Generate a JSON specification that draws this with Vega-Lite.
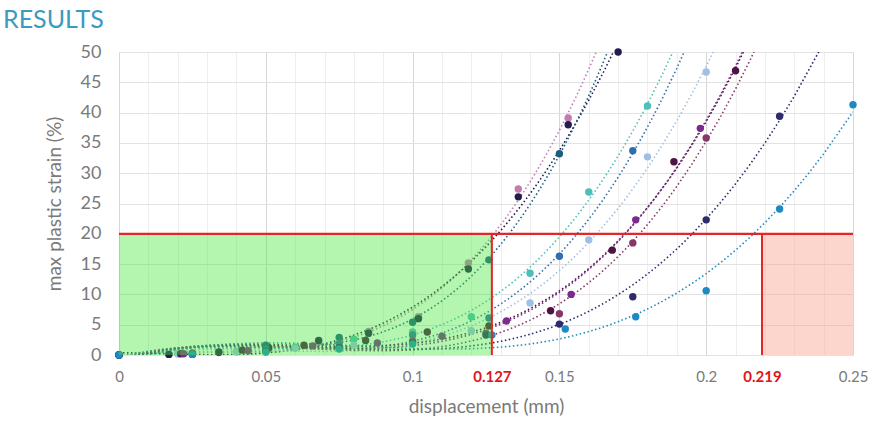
{
  "$schema": "https://vega.github.io/schema/vega-lite/v6.json",
  "width": 734,
  "height": 303,
  "autosize": {"type": "none"},
  "padding": {"left": 119, "top": 52, "right": 29, "bottom": 70},
  "background": "white",
  "title": {"text": "RESULTS", "anchor": "start", "frame": "group", "dx": -116, "offset": 10, "fontSize": 25, "font": "Lato", "fontWeight": "normal", "color": "#3b9ac0"},
  "config": {"view": {"stroke": null}, "font": "Lato"},
  "datasets": {
    "pts": [
      {"s": "A", "x": 0, "y": 0}, {"s": "A", "x": 0.017, "y": 0.1}, {"s": "A", "x": 0.034, "y": 0.4}, {"s": "A", "x": 0.051, "y": 1.0}, {"s": "A", "x": 0.068, "y": 2.2}, {"s": "A", "x": 0.085, "y": 3.9}, {"s": "A", "x": 0.102, "y": 6.3}, {"s": "A", "x": 0.119, "y": 15.2}, {"s": "A", "x": 0.136, "y": 27.4}, {"s": "A", "x": 0.153, "y": 39.1},
      {"s": "B", "x": 0, "y": 0}, {"s": "B", "x": 0.017, "y": 0.1}, {"s": "B", "x": 0.034, "y": 0.5}, {"s": "B", "x": 0.051, "y": 1.2}, {"s": "B", "x": 0.068, "y": 2.4}, {"s": "B", "x": 0.085, "y": 3.6}, {"s": "B", "x": 0.102, "y": 6.0}, {"s": "B", "x": 0.119, "y": 14.2}, {"s": "B", "x": 0.136, "y": 26.1}, {"s": "B", "x": 0.153, "y": 38.0}, {"s": "B", "x": 0.170, "y": 50.0},
      {"s": "C", "x": 0, "y": 0}, {"s": "C", "x": 0.025, "y": 0.3}, {"s": "C", "x": 0.05, "y": 1.6}, {"s": "C", "x": 0.075, "y": 2.9}, {"s": "C", "x": 0.1, "y": 5.4}, {"s": "C", "x": 0.126, "y": 15.7}, {"s": "C", "x": 0.150, "y": 33.2},
      {"s": "D", "x": 0, "y": 0}, {"s": "D", "x": 0.02, "y": 0.2}, {"s": "D", "x": 0.04, "y": 0.6}, {"s": "D", "x": 0.06, "y": 1.3}, {"s": "D", "x": 0.08, "y": 2.6}, {"s": "D", "x": 0.1, "y": 3.8}, {"s": "D", "x": 0.12, "y": 6.3}, {"s": "D", "x": 0.14, "y": 13.5}, {"s": "D", "x": 0.16, "y": 26.9}, {"s": "D", "x": 0.18, "y": 41.1},
      {"s": "E", "x": 0, "y": 0}, {"s": "E", "x": 0.02, "y": 0.2}, {"s": "E", "x": 0.04, "y": 0.5}, {"s": "E", "x": 0.06, "y": 1.1}, {"s": "E", "x": 0.08, "y": 1.6}, {"s": "E", "x": 0.1, "y": 2.3}, {"s": "E", "x": 0.12, "y": 4.0}, {"s": "E", "x": 0.14, "y": 8.6}, {"s": "E", "x": 0.16, "y": 19.0}, {"s": "E", "x": 0.18, "y": 32.7}, {"s": "E", "x": 0.2, "y": 46.7},
      {"s": "F", "x": 0, "y": 0}, {"s": "F", "x": 0.025, "y": 0.2}, {"s": "F", "x": 0.05, "y": 0.9}, {"s": "F", "x": 0.075, "y": 1.9}, {"s": "F", "x": 0.1, "y": 3.3}, {"s": "F", "x": 0.126, "y": 6.1}, {"s": "F", "x": 0.150, "y": 16.3}, {"s": "F", "x": 0.175, "y": 33.7},
      {"s": "G", "x": 0, "y": 0}, {"s": "G", "x": 0.021, "y": 0.2}, {"s": "G", "x": 0.042, "y": 0.8}, {"s": "G", "x": 0.063, "y": 1.6}, {"s": "G", "x": 0.084, "y": 2.4}, {"s": "G", "x": 0.105, "y": 3.8}, {"s": "G", "x": 0.126, "y": 4.8}, {"s": "G", "x": 0.147, "y": 7.3}, {"s": "G", "x": 0.168, "y": 17.3}, {"s": "G", "x": 0.189, "y": 31.9}, {"s": "G", "x": 0.210, "y": 46.9},
      {"s": "H", "x": 0, "y": 0}, {"s": "H", "x": 0.022, "y": 0.2}, {"s": "H", "x": 0.044, "y": 0.7}, {"s": "H", "x": 0.066, "y": 1.5}, {"s": "H", "x": 0.088, "y": 2.0}, {"s": "H", "x": 0.110, "y": 3.1}, {"s": "H", "x": 0.132, "y": 5.6}, {"s": "H", "x": 0.154, "y": 10.0}, {"s": "H", "x": 0.176, "y": 22.3}, {"s": "H", "x": 0.198, "y": 37.4},
      {"s": "I", "x": 0, "y": 0}, {"s": "I", "x": 0.025, "y": 0.3}, {"s": "I", "x": 0.05, "y": 0.7}, {"s": "I", "x": 0.075, "y": 1.3}, {"s": "I", "x": 0.1, "y": 2.3}, {"s": "I", "x": 0.125, "y": 3.6}, {"s": "I", "x": 0.150, "y": 6.8}, {"s": "I", "x": 0.175, "y": 18.5}, {"s": "I", "x": 0.200, "y": 35.8},
      {"s": "J", "x": 0, "y": 0}, {"s": "J", "x": 0.025, "y": 0.1}, {"s": "J", "x": 0.05, "y": 0.6}, {"s": "J", "x": 0.075, "y": 1.2}, {"s": "J", "x": 0.1, "y": 2.0}, {"s": "J", "x": 0.125, "y": 3.3}, {"s": "J", "x": 0.150, "y": 5.1}, {"s": "J", "x": 0.175, "y": 9.6}, {"s": "J", "x": 0.200, "y": 22.3}, {"s": "J", "x": 0.225, "y": 39.4},
      {"s": "K", "x": 0, "y": 0}, {"s": "K", "x": 0.025, "y": 0.1}, {"s": "K", "x": 0.05, "y": 0.5}, {"s": "K", "x": 0.075, "y": 1.0}, {"s": "K", "x": 0.1, "y": 1.8}, {"s": "K", "x": 0.127, "y": 3.3}, {"s": "K", "x": 0.152, "y": 4.3}, {"s": "K", "x": 0.176, "y": 6.3}, {"s": "K", "x": 0.200, "y": 10.6}, {"s": "K", "x": 0.225, "y": 24.1}, {"s": "K", "x": 0.250, "y": 41.3}
    ]
  },
  "layer": [
    {
      "data": {"values": [{"x1": 0.219, "x2": 0.25, "y1": 0, "y2": 20}]},
      "mark": {"type": "rect", "fill": "#f9a58f", "opacity": 0.45},
      "encoding": {
        "x": {"field": "x1", "type": "quantitative"},
        "x2": {"field": "x2"},
        "y": {"field": "y1", "type": "quantitative"},
        "y2": {"field": "y2"}
      }
    },
    {
      "data": {"name": "pts"},
      "transform": [{"regression": "y", "on": "x", "groupby": ["s"], "method": "poly", "order": 3, "extent": [0, 0.25]}],
      "mark": {"type": "line", "strokeDash": [1.5, 2.5], "strokeWidth": 1.6, "clip": true},
      "encoding": {
        "x": {"field": "x", "type": "quantitative"},
        "y": {"field": "y", "type": "quantitative"},
        "color": {"field": "s", "type": "nominal", "legend": null, "scale": {"domain": ["A", "B", "C", "D", "E", "F", "G", "H", "I", "J", "K"], "range": ["#c47bb0", "#221d4d", "#1d5e80", "#4dbfb6", "#9fbfe4", "#2f6fae", "#4b1442", "#7b2a8e", "#86386b", "#2d2a70", "#1f8ac2"]}}
      }
    },
    {
      "data": {"name": "pts"},
      "mark": {"type": "circle", "size": 55, "opacity": 1},
      "encoding": {
        "x": {"field": "x", "type": "quantitative"},
        "y": {"field": "y", "type": "quantitative"},
        "color": {"field": "s", "type": "nominal", "legend": null}
      }
    },
    {
      "data": {"values": [{"x1": 0, "x2": 0.127, "y1": 0, "y2": 20}]},
      "mark": {"type": "rect", "fill": "#43e637", "opacity": 0.4},
      "encoding": {
        "x": {"field": "x1", "type": "quantitative"},
        "x2": {"field": "x2"},
        "y": {"field": "y1", "type": "quantitative"},
        "y2": {"field": "y2"}
      }
    },
    {
      "data": {"values": [{"x": 0.127, "y": 0, "y2": 20}, {"x": 0.219, "y": 0, "y2": 20}]},
      "mark": {"type": "rule", "color": "#e3262a", "strokeWidth": 2},
      "encoding": {
        "x": {"field": "x", "type": "quantitative"},
        "y": {"field": "y", "type": "quantitative"},
        "y2": {"field": "y2"}
      }
    },
    {
      "data": {"values": [{"x": 0, "x2": 0.25, "y": 20}]},
      "mark": {"type": "rule", "color": "#e3262a", "strokeWidth": 2.2},
      "encoding": {
        "x": {"field": "x", "type": "quantitative"},
        "x2": {"field": "x2"},
        "y": {"field": "y", "type": "quantitative"}
      }
    }
  ],
  "encoding": {
    "x": {
      "type": "quantitative",
      "scale": {"domain": [0, 0.25], "nice": false, "zero": false},
      "axis": {
        "title": "displacement (mm)",
        "titleFontSize": 19, "titleColor": "#7a7a7a", "titleFontWeight": "normal", "titlePadding": 13,
        "values": [0, 0.01, 0.02, 0.03, 0.04, 0.05, 0.06, 0.07, 0.08, 0.09, 0.1, 0.11, 0.12, 0.13, 0.14, 0.15, 0.16, 0.17, 0.18, 0.19, 0.2, 0.21, 0.22, 0.23, 0.24, 0.25, 0.127, 0.219],
        "labelExpr": "indexof([0, 0.05, 0.1, 0.15, 0.2, 0.25, 0.127, 0.219], datum.value) >= 0 ? toString(datum.value) : ''",
        "labelColor": {"condition": {"test": "datum.value == 0.127 || datum.value == 0.219", "value": "#e0161b"}, "value": "#7a7a7a"},
        "labelFontWeight": {"condition": {"test": "datum.value == 0.127 || datum.value == 0.219", "value": "bold"}, "value": "normal"},
        "labelFontSize": 15,
        "labelPadding": 14,
        "labelOverlap": false,
        "labelFlush": false,
        "domain": false, "ticks": false,
        "gridColor": {"condition": [{"test": "datum.value == 0.127 || datum.value == 0.219", "value": "transparent"}, {"test": "indexof([0, 0.05, 0.1, 0.15, 0.2, 0.25], datum.value) >= 0", "value": "#d6d6d6"}], "value": "#eeeeee"}
      }
    },
    "y": {
      "type": "quantitative",
      "scale": {"domain": [0, 50], "nice": false},
      "axis": {
        "title": "max plastic strain (%)",
        "titleFontSize": 19, "titleColor": "#7a7a7a", "titleFontWeight": "normal", "titlePadding": 16,
        "values": [0, 5, 10, 15, 20, 25, 30, 35, 40, 45, 50],
        "labelFontSize": 18, "labelColor": "#7a7a7a", "labelPadding": 18, "labelFlush": false,
        "domain": false, "ticks": false, "gridColor": "#e2e2e2"
      }
    }
  }
}
